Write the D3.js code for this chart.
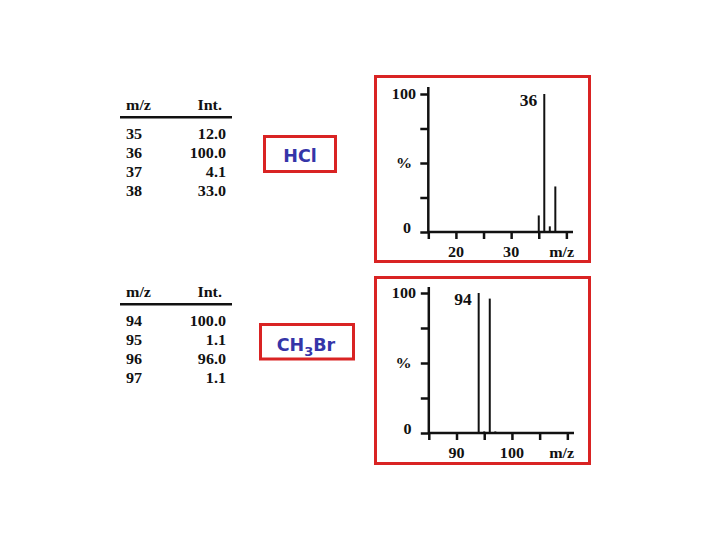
<!DOCTYPE html>
<html><head><meta charset="utf-8">
<script src="https://cdn.jsdelivr.net/npm/d3@7"></script>
<style>body{margin:0;background:#fff}svg{display:block}</style>
</head><body>
<svg id="c" width="720" height="540"></svg>
<script>
// ---- data ----
const hclMz = [35, 36, 37, 38];
const hclInt = [12.0, 100.0, 4.1, 33.0];
const hclIntLabels = ["12.0", "100.0", "4.1", "33.0"];
const ch3brMz = [94, 95, 96, 97];
const ch3brInt = [100.0, 1.1, 96.0, 1.1];
const ch3brIntLabels = ["100.0", "1.1", "96.0", "1.1"];
const hclXTicks = [15, 20, 25, 30, 35, 40];
const hclXLabels = [20, 30];
const ch3brXTicks = [85, 90, 95, 100, 105, 110];
const ch3brXLabels = [90, 100];
const yTicks = [0, 25, 50, 75, 100];
const tableHeaders = ["m/z", "Int."];
const hclPeakLabel = 36;
const ch3brPeakLabel = 94;

const svg = d3.select("#c");
const RED = "#d92323";
const BLUE = "#3535a8";
const SERIF = "'Liberation Serif','Times New Roman',serif";

function sText(g, x, y, str, size, anchor, sx) {
  return g.append("text")
    .attr("transform", `translate(${x},${y}) scale(${sx || 1.15},1)`)
    .attr("text-anchor", anchor || "start")
    .attr("font-family", SERIF).attr("font-weight", "bold")
    .attr("font-size", size).attr("fill", "#111").text(str);
}

// ---- tables ----
function table(lineY, mz, labels) {
  const g = svg.append("g");
  sText(g, 126, lineY - 7.5, tableHeaders[0], 14, "start");
  sText(g, 222, lineY - 7.5, tableHeaders[1], 14, "end");
  g.append("line").attr("x1", 120).attr("x2", 232).attr("y1", lineY).attr("y2", lineY)
    .attr("stroke", "#111").attr("stroke-width", 2.5);
  const rowY = d3.scaleLinear().domain([0, 1]).range([lineY + 21.5, lineY + 21.5 + 19.1]);
  mz.forEach((m, i) => {
    sText(g, 126, rowY(i), String(m), 14, "start");
    sText(g, 226, rowY(i), labels[i], 14, "end");
  });
}
table(117.3, hclMz, hclIntLabels);
table(304.3, ch3brMz, ch3brIntLabels);

// ---- compound boxes ----
const b1 = svg.append("g");
b1.append("rect").attr("x", 264.5).attr("y", 136.5).attr("width", 71).attr("height", 35)
  .attr("fill", "none").attr("stroke", RED).attr("stroke-width", 3);
b1.append("text").attr("x", 300).attr("y", 162).attr("text-anchor", "middle")
  .attr("font-family", "'DejaVu Sans',Verdana,sans-serif").attr("font-weight", "bold")
  .attr("font-size", 17.5).attr("fill", BLUE).text("HCl");
const b2 = svg.append("g");
b2.append("rect").attr("x", 260.5).attr("y", 324.5).attr("width", 93).attr("height", 34.5)
  .attr("fill", "none").attr("stroke", RED).attr("stroke-width", 3);
const t2 = b2.append("text").attr("x", 306).attr("y", 351).attr("text-anchor", "middle")
  .attr("font-family", "'DejaVu Sans',Verdana,sans-serif").attr("font-weight", "bold")
  .attr("font-size", 17.5).attr("fill", BLUE);
t2.append("tspan").text("CH");
t2.append("tspan").attr("font-size", 13).attr("dy", 5).text("3");
t2.append("tspan").attr("dy", -5).text("Br");

// ---- spectra ----
function spectrum(opt) {
  const g = svg.append("g");
  g.append("rect").attr("x", opt.box[0]).attr("y", opt.box[1]).attr("width", opt.box[2]).attr("height", opt.box[3])
    .attr("fill", "none").attr("stroke", RED).attr("stroke-width", 3);
  const x = d3.scaleLinear().domain(opt.xDomain).range(opt.xRange);
  const y = d3.scaleLinear().domain([0, 100]).range(opt.yRange);
  const x0 = x(opt.xDomain[0]);
  g.append("line").attr("x1", x0).attr("x2", x0).attr("y1", y(0)).attr("y2", opt.yTop)
    .attr("stroke", "#111").attr("stroke-width", 2.5);
  g.append("line").attr("x1", x0).attr("x2", opt.xRange[1]).attr("y1", y(0)).attr("y2", y(0))
    .attr("stroke", "#111").attr("stroke-width", 2.5);
  const xa = g.append("g").attr("transform", `translate(0,${y(0)})`)
    .call(d3.axisBottom(x).tickValues(opt.xTicks).tickSize(7).tickSizeOuter(0).tickFormat(""));
  const ya = g.append("g").attr("transform", `translate(${x0},0)`)
    .call(d3.axisLeft(y).tickValues(yTicks).tickSize(8).tickSizeOuter(0).tickFormat(""));
  [xa, ya].forEach(a => {
    a.select(".domain").remove();
    a.selectAll(".tick line").attr("stroke", "#111").attr("stroke-width", 2.5);
  });
  opt.xLabels.forEach(v => sText(g, x(v), y(0) + 24.5, String(v), 14, "middle"));
  sText(g, 561.7, y(0) + 24.5, "m/z", 14, "middle");
  sText(g, 416, y(100) + 5, "100", 14, "end");
  sText(g, opt.pctX, y(50) + 5, "%", 14, "middle");
  sText(g, opt.zeroX, y(0) + 1, "0", 14, "end");
  g.selectAll("line.peak").data(opt.mz).enter().append("line").attr("class", "peak")
    .attr("x1", d => x(d)).attr("x2", d => x(d))
    .attr("y1", y(0)).attr("y2", (d, i) => y(opt.int[i]))
    .attr("stroke", "#111").attr("stroke-width", 2);
  sText(g, x(opt.peakLabel) - 7, y(100) + 11.5, String(opt.peakLabel), 17.5, "end", 1.0);
}

spectrum({
  box: [375.5, 76.5, 214, 185],
  xDomain: [15, 41.2], xRange: [428.3, 573],
  yRange: [232, 94], yTop: 87,
  xTicks: hclXTicks, xLabels: hclXLabels,
  mz: hclMz, int: hclInt, peakLabel: hclPeakLabel,
  pctX: 404, zeroX: 411
});
spectrum({
  box: [375.5, 277.5, 214, 186],
  xDomain: [85, 111.2], xRange: [428.8, 574],
  yRange: [433, 293], yTop: 287,
  xTicks: ch3brXTicks, xLabels: ch3brXLabels,
  mz: ch3brMz, int: ch3brInt, peakLabel: ch3brPeakLabel,
  pctX: 403.5, zeroX: 411.5
});
</script>
</body></html>
